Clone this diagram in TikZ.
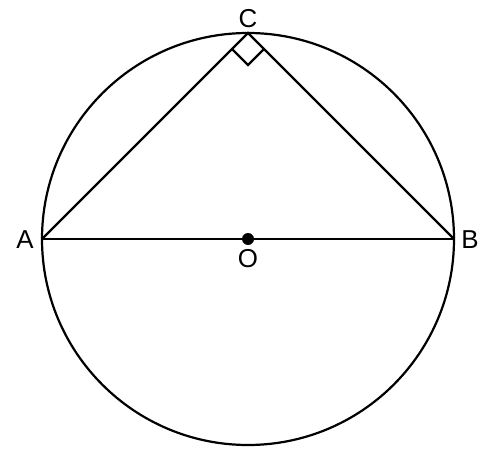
\documentclass[tikz,border=0pt]{standalone}
\usepackage{fontspec}
\setmainfont{Liberation Sans}
\begin{document}
\begin{tikzpicture}[x=1bp,y=-1bp,
  ln/.style={line width=2.2bp,black},
  lbl/.style={font=\fontsize{26}{26}\selectfont,inner sep=0pt}]
\useasboundingbox (0,0) rectangle (495,452);
\coordinate (O) at (248,239);
\coordinate (A) at (42,239);
\coordinate (B) at (454,239);
\coordinate (C) at (248,33);
\draw[ln] (O) circle[radius=206];
\draw[ln] (A) -- (B);
\draw[ln] (A) -- (C) -- (B);
\draw[ln] (232,49) -- (248,65) -- (264,49);
\fill (O) circle[radius=6];
\node[lbl] (la) at (25,240) {A};
\node[lbl] (lb) at (470,240) {B};
\node[lbl] (lc) at (248,19) {C};
\node[lbl] (lo) at (248,259) {O};
\end{tikzpicture}
\end{document}
